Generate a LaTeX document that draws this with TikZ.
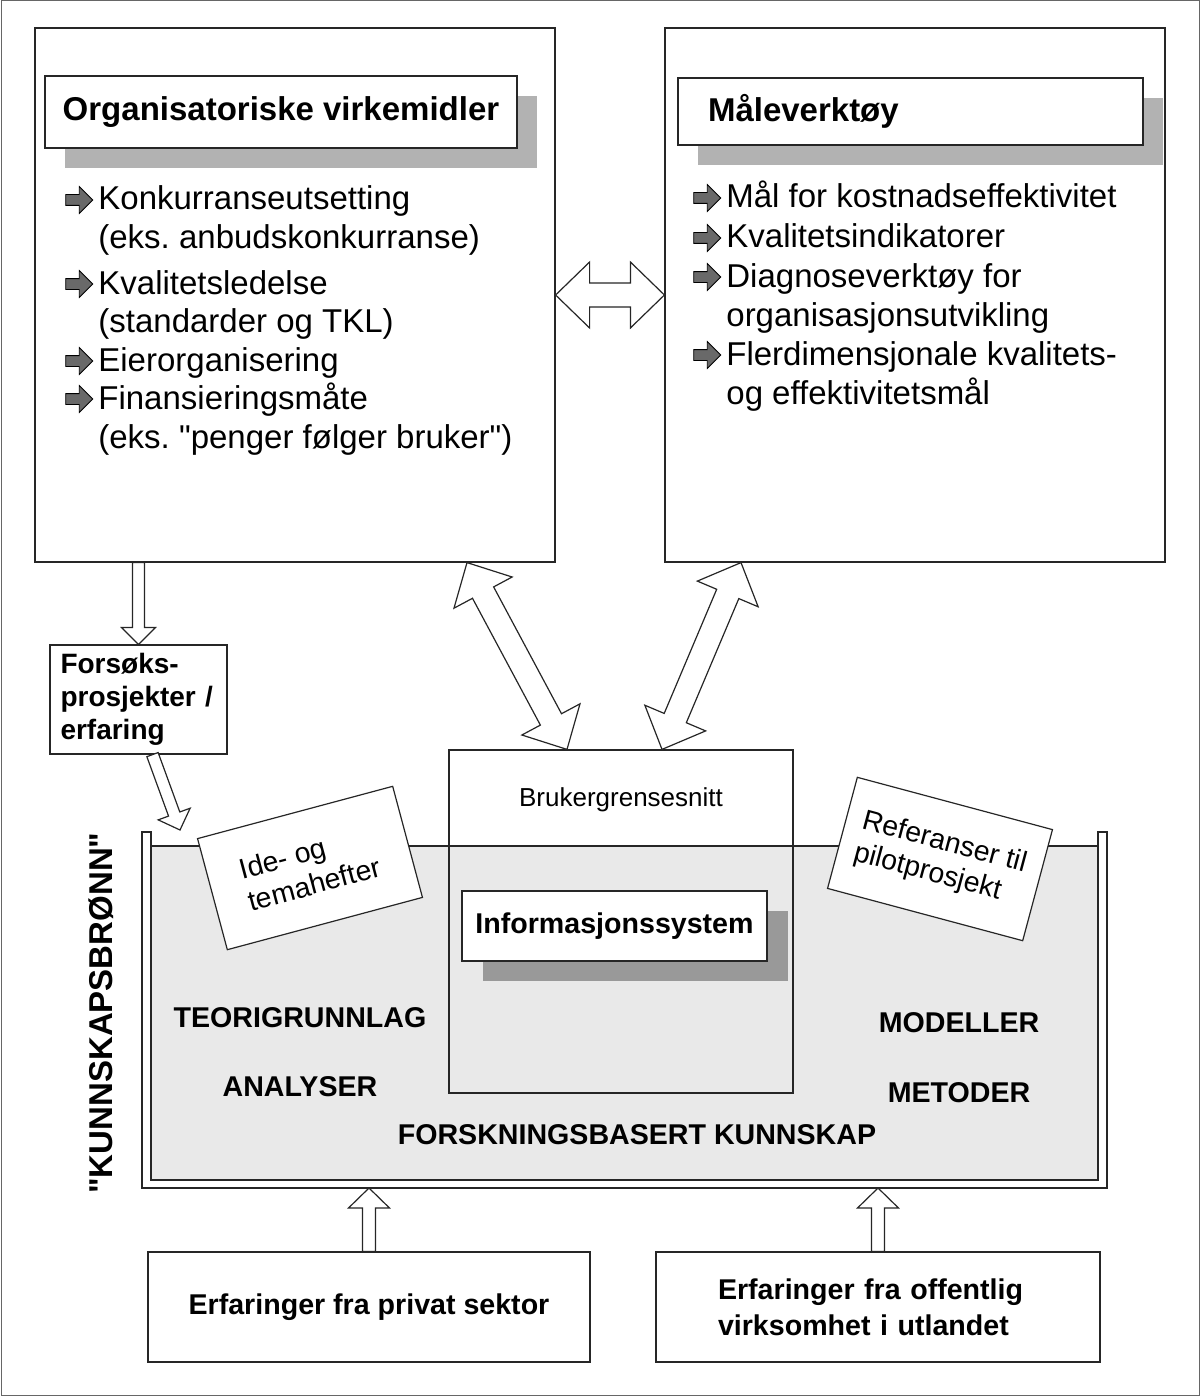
\documentclass[tikz,border=0pt]{standalone}
\usepackage{fontspec}
\setmainfont[Ligatures=TeXOff]{Liberation Sans}
\usetikzlibrary{calc,shapes.arrows,shadows}
\frenchspacing

\definecolor{lightshade}{RGB}{178,178,178}
\definecolor{darkshade}{RGB}{153,153,153}
\definecolor{wellgray}{RGB}{233,233,233}
\definecolor{iconfill}{RGB}{105,105,105}

\newcommand\bigtext{\fontsize{16.5}{19.25}\selectfont}
\newcommand\midtext{\fontsize{14.3}{17}\selectfont}
\newcommand\notetext{\fontsize{14.2}{16.5}\selectfont}
\newcommand\smalltext{\fontsize{13}{15}\selectfont}

\begin{document}
\begin{tikzpicture}[x=0.5pt, y=-0.5pt,
  frame/.style={draw=black!85, line width=0.6pt, inner sep=0pt},
  titlebox/.style={frame, fill=white, font=\bigtext\bfseries,
    drop shadow={shadow xshift=10pt, shadow yshift=-10pt, fill=lightshade, opacity=1}},
  item/.style={anchor=base west, inner sep=0pt, font=\bigtext},
  bullet/.style={single arrow, draw=black, fill=iconfill, line width=0.4pt,
    minimum height=13.5pt, minimum width=13pt, inner xsep=0pt, inner ysep=2.5pt,
    single arrow head extend=4pt},
  note/.style={frame, fill=white, minimum width=101pt, minimum height=57.5pt,
    align=left, font=\notetext},
  welltext/.style={font=\midtext\bfseries},
  dblarrow/.style={frame, fill=white, to path={
    let \p1=(\tikztostart), \p2=(\tikztotarget),
        \n1={atan2(\y2-\y1,\x2-\x1)}, \n2={veclen(\x2-\x1,\y2-\y1)-34pt}
    in ($(\p1)+(\n1:17pt)+(\n1+90:16.5pt)$) -- ++(\n1-90:10.5pt) -- ++(\n1:\n2)
    -- ++(\n1+90:10.5pt) -- (\p2) -- ($(\p2)+(\n1+180:17pt)+(\n1-90:16.5pt)$)
    -- ++(\n1+90:10.5pt) -- ++(\n1+180:\n2) -- ++(\n1-90:10.5pt) -- (\p1) -- cycle}},
  onearrow/.style n args={3}{frame, fill=white, to path={
    let \p1=(\tikztostart), \p2=(\tikztotarget),
        \n1={atan2(\y2-\y1,\x2-\x1)}, \n2={veclen(\x2-\x1,\y2-\y1)-#3pt}, \n3={#2pt-#1pt}
    in ($(\p1)+(\n1+90:#1pt)$) -- ++(\n1:\n2) -- ++(\n1+90:\n3) -- (\p2)
    -- ($(\p2)+(\n1+180:#3pt)+(\n1-90:#2pt)$) -- ++(\n1+90:\n3)
    -- ++(\n1+180:\n2) -- cycle}},
]
\useasboundingbox (0,0) rectangle (1200,1396);
\draw[black!60, line width=0.5pt] (1,1) rectangle (1199,1395);

% top boxes
\node[frame, minimum width=260pt, minimum height=267pt] (org) at (295,295) {};
\node[frame, minimum width=250pt, minimum height=267pt] (maal) at (915,295) {};

\node[titlebox, minimum width=236pt, minimum height=36pt] (orgtitle) at (281,112) {Organisatoriske virkemidler};
\node[titlebox, minimum height=33.5pt, text width=202.5pt, inner xsep=15pt, align=left] (maaltitle) at (910.5,111.5) {Måleverktøy};

% left list
\node[item] (konk) at (98,210) {Konkurranseutsetting};
\node[item] (konkeks) at (98,249) {(eks. anbudskonkurranse)};
\node[item] (kval) at (98,294) {Kvalitetsledelse};
\node[item] (kvalstd) at (98,332) {(standarder og TKL)};
\node[item] (eier) at (98,371) {Eierorganisering};
\node[item] (fin) at (98,409) {Finansieringsmåte};
\node[item] (fineks) at (98,448) {(eks. "penger følger bruker")};

\node[bullet] (pkonk) at ([shift={(-10.75pt,5pt)}]konk.base west) {};
\node[bullet] (pkval) at ([shift={(-10.75pt,5pt)}]kval.base west) {};
\node[bullet] (peier) at ([shift={(-10.75pt,5pt)}]eier.base west) {};
\node[bullet] (pfin) at ([shift={(-10.75pt,5pt)}]fin.base west) {};

% right list
\node[item] (kost) at (726,208) {Mål for kostnadseffektivitet};
\node[item] (indik) at (726,248) {Kvalitetsindikatorer};
\node[item] (diag) at (726,287) {Diagnoseverktøy for};
\node[item] (diagorg) at (726,326) {organisasjonsutvikling};
\node[item] (fler) at (726,365) {Flerdimensjonale kvalitets-};
\node[item] (flereff) at (726,404) {og effektivitetsmål};

\node[bullet] (pkost) at ([shift={(-10.75pt,5pt)}]kost.base west) {};
\node[bullet] (pindik) at ([shift={(-10.75pt,5pt)}]indik.base west) {};
\node[bullet] (pdiag) at ([shift={(-10.75pt,5pt)}]diag.base west) {};
\node[bullet] (pfler) at ([shift={(-10.75pt,5pt)}]fler.base west) {};

\draw[dblarrow] (org.east) to (maal.west);

% forsok
\node[frame, fill=white, minimum width=88.5pt, minimum height=54.5pt, text width=78pt,
  inner xsep=5.25pt, align=left, font=\fontsize{14}{16.5}\selectfont\bfseries] (fors) at (138.5,699.5) {Forsøks-\\prosjekter /\\erfaring};
\draw[onearrow={3}{8.5}{8.5}] (fors.north |- org.south) to (fors.north);

% the well
\draw[frame, fill=white] (142,832) -- (142,1188) -- (1107,1188) -- (1107,832) -- (1098,832)
  -- (1098,1180) -- (151,1180) -- (151,832) -- cycle;
\draw[frame, fill=wellgray] (151,846) rectangle (1098,1180);
\coordinate (bunn) at (625,1188);
\coordinate (kant) at (180,830);

\draw[onearrow={3}{8.5}{8.5}] ([xshift=7pt]fors.south) to (kant);

% user interface
\node[frame, minimum width=172pt, minimum height=171.5pt] (bruk) at (621,921.5) {};
\node[font=\smalltext] (bruktekst) at (621,800) {Brukergrensesnitt};
\node[frame, fill=white, minimum width=152.5pt, minimum height=35pt, font=\midtext\bfseries,
  drop shadow={shadow xshift=10.5pt, shadow yshift=-10pt, fill=darkshade, opacity=1}] (info) at (614.5,926) {Informasjonssystem};

\draw[dblarrow] ([xshift=86pt]org.south) to ([xshift=-27pt]bruk.north);
\draw[dblarrow] ([xshift=-87pt]maal.south) to ([xshift=20.5pt]bruk.north);

% notes
\node[note, rotate=15] (ide) at (310,868) {Ide- og\\temahefter};
\node[note, rotate=-15] (ref) at (940,859) {Referanser til\\pilotprosjekt};

% well texts
\node[welltext] (teori) at (300,1018) {TEORIGRUNNLAG};
\node[welltext] (analyser) at (300,1087) {ANALYSER};
\node[welltext] (forsk) at (637,1135) {FORSKNINGSBASERT KUNNSKAP};
\node[welltext] (modeller) at (959,1023) {MODELLER};
\node[welltext] (metoder) at (959,1093) {METODER};

\node[rotate=90, font=\bigtext\bfseries] (bronn) at (101,1013) {"KUNNSKAPSBRØNN"};

% bottom
\node[frame, minimum width=221pt, minimum height=55pt, font=\midtext\bfseries] (privat) at (369,1307) {Erfaringer fra privat sektor};
\node[frame, minimum width=222pt, minimum height=55pt, text width=160pt, inner xsep=31pt, align=left,
  font=\fontsize{14.3}{18}\selectfont\bfseries] (offentlig) at (878,1307) {Erfaringer fra offentlig\\virksomhet i utlandet};

\draw[onearrow={3.25}{10.25}{10}] (privat.north) to (privat.north |- bunn);
\draw[onearrow={3.25}{10.25}{10}] (offentlig.north) to (offentlig.north |- bunn);
\end{tikzpicture}
\end{document}
